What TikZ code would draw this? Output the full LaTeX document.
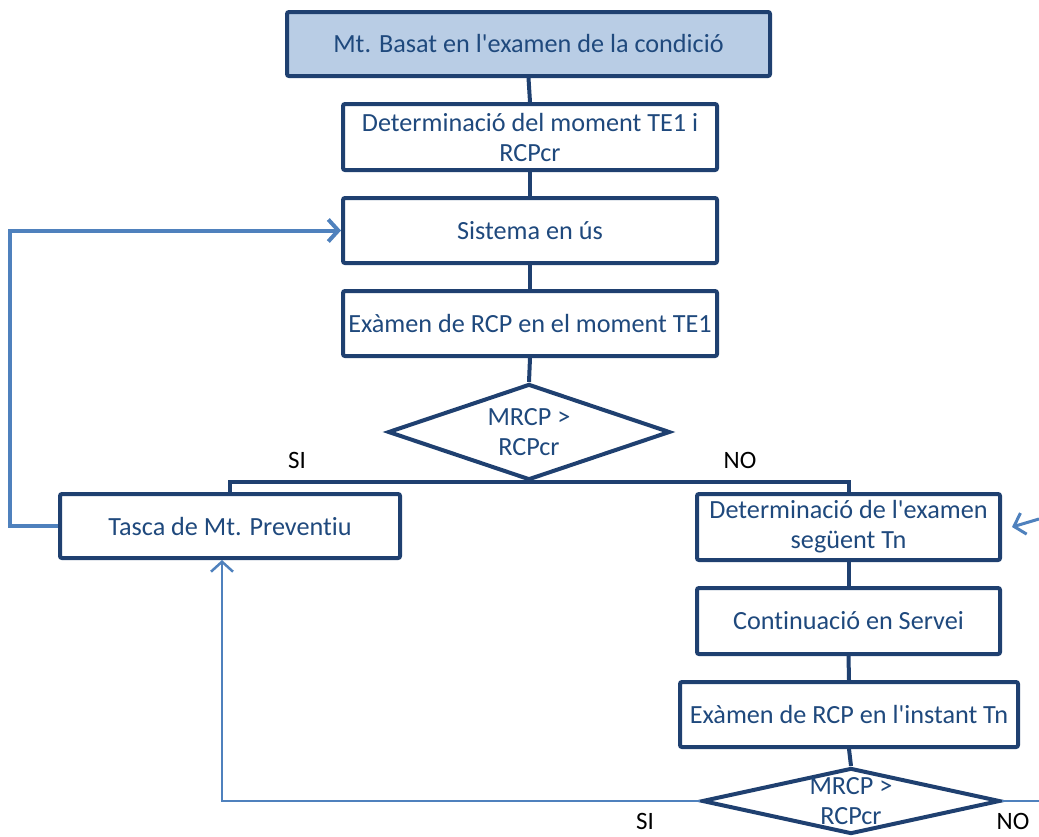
\documentclass[tikz,border=0pt]{standalone}
\usepackage{fontspec}
\setmainfont{Carlito}[Ligatures={TeXOff,NoCommon}]
\usetikzlibrary{shapes.geometric,arrows.meta}
\definecolor{boxline}{RGB}{31,64,112}
\definecolor{boxtext}{RGB}{31,73,125}
\definecolor{headfill}{RGB}{185,205,229}
\definecolor{loopblue}{RGB}{79,129,189}
\begin{document}
\begin{tikzpicture}[x=1pt,y=-1pt,
  font=\fontsize{26.2}{30}\selectfont,
  stepbox/.style={draw=boxline, line width=4pt, rounded corners=2pt, fill=white,
    text=boxtext, align=center, inner sep=2pt},
  headbox/.style={stepbox, fill=headfill},
  decision/.style={diamond, draw=boxline, line width=4pt, fill=white, inner sep=0pt},
  decisiontext/.style={text=boxtext, align=center, inner sep=0pt},
  flow/.style={draw=boxline, line width=4pt},
  back/.style={draw=loopblue, line width=4pt, -{Straight Barb[length=10pt,width=22pt]}},
  branch/.style={text=black, inner sep=0pt, font=\fontsize{25}{30}\selectfont}
]
\useasboundingbox (0,0) rectangle (1039,836);

% main column
\node[headbox, minimum width=483pt, minimum height=64pt] (head) at (528.5,44) {Mt. Basat en l'examen de la condició};
\node[stepbox, minimum width=374pt, minimum height=66pt] (detTE) at (530,137) {Determinació del moment TE1 i\\RCPcr};
\node[stepbox, minimum width=374pt, minimum height=65pt] (sys) at (530,230.5) {Sistema en ús};
\node[stepbox, minimum width=374pt, minimum height=65pt] (exTE) at (530,323.5) {Exàmen de RCP en el moment TE1};
\node[decision, minimum width=282pt, minimum height=96pt] (dec1) at (529,432) {};
\node[decisiontext] (dec1t) at (529,432) {MRCP >\\RCPcr};

% branches
\node[stepbox, minimum width=340pt, minimum height=64pt] (prev) at (230,526) {Tasca de Mt. Preventiu};
\node[stepbox, minimum width=303pt, minimum height=66pt] (next) at (848.5,527) {Determinació de l'examen\\següent Tn};
\node[stepbox, minimum width=303pt, minimum height=66pt] (cont) at (848.5,621) {Continuació en Servei};
\node[stepbox, minimum width=338pt, minimum height=65pt] (exTn) at (849,714.5) {Exàmen de RCP en l'instant Tn};
\node[decision, minimum width=298pt, minimum height=66pt] (dec2) at (851,801) {};
\node[decisiontext] (dec2t) at (851,801) {MRCP >\\RCPcr};

% branch labels
\node[branch] (si1) at (297,460) {SI};
\node[branch] (no1) at (740,460) {NO};
\node[branch] (si2) at (645,821) {SI};
\node[branch] (no2) at (1013,821) {NO};

% free ends at the right margin
\coordinate (rin) at (1039,519);
\coordinate (rout) at (1039,801);

% main flow
\path[flow] (head.south) -- (detTE.north);
\path[flow] (detTE.south) -- (sys.north);
\path[flow] (sys.south) -- (exTE.north);
\path[flow] (exTE.south) -- (dec1.north);
\path[flow] (dec1.south) -| (prev.north);
\path[flow] (dec1.south) -| (next.north);
\path[flow] (next.south) -- (cont.north);
\path[flow] (cont.south) -- (exTn.north);
\path[flow] (exTn.south) -- (dec2.north);

% feedback lines
\draw[back] (prev.west) -- ++(-48,0) |- (sys.west);
\draw[back, line width=2.5pt] (dec2.west) -| ([xshift=-8pt]prev.south);
\draw[draw=loopblue, line width=2.5pt] (dec2.east) -- (rout);
\draw[back, line width=3pt] (rin) -- ([xshift=10pt]next.east);
\end{tikzpicture}
\end{document}
